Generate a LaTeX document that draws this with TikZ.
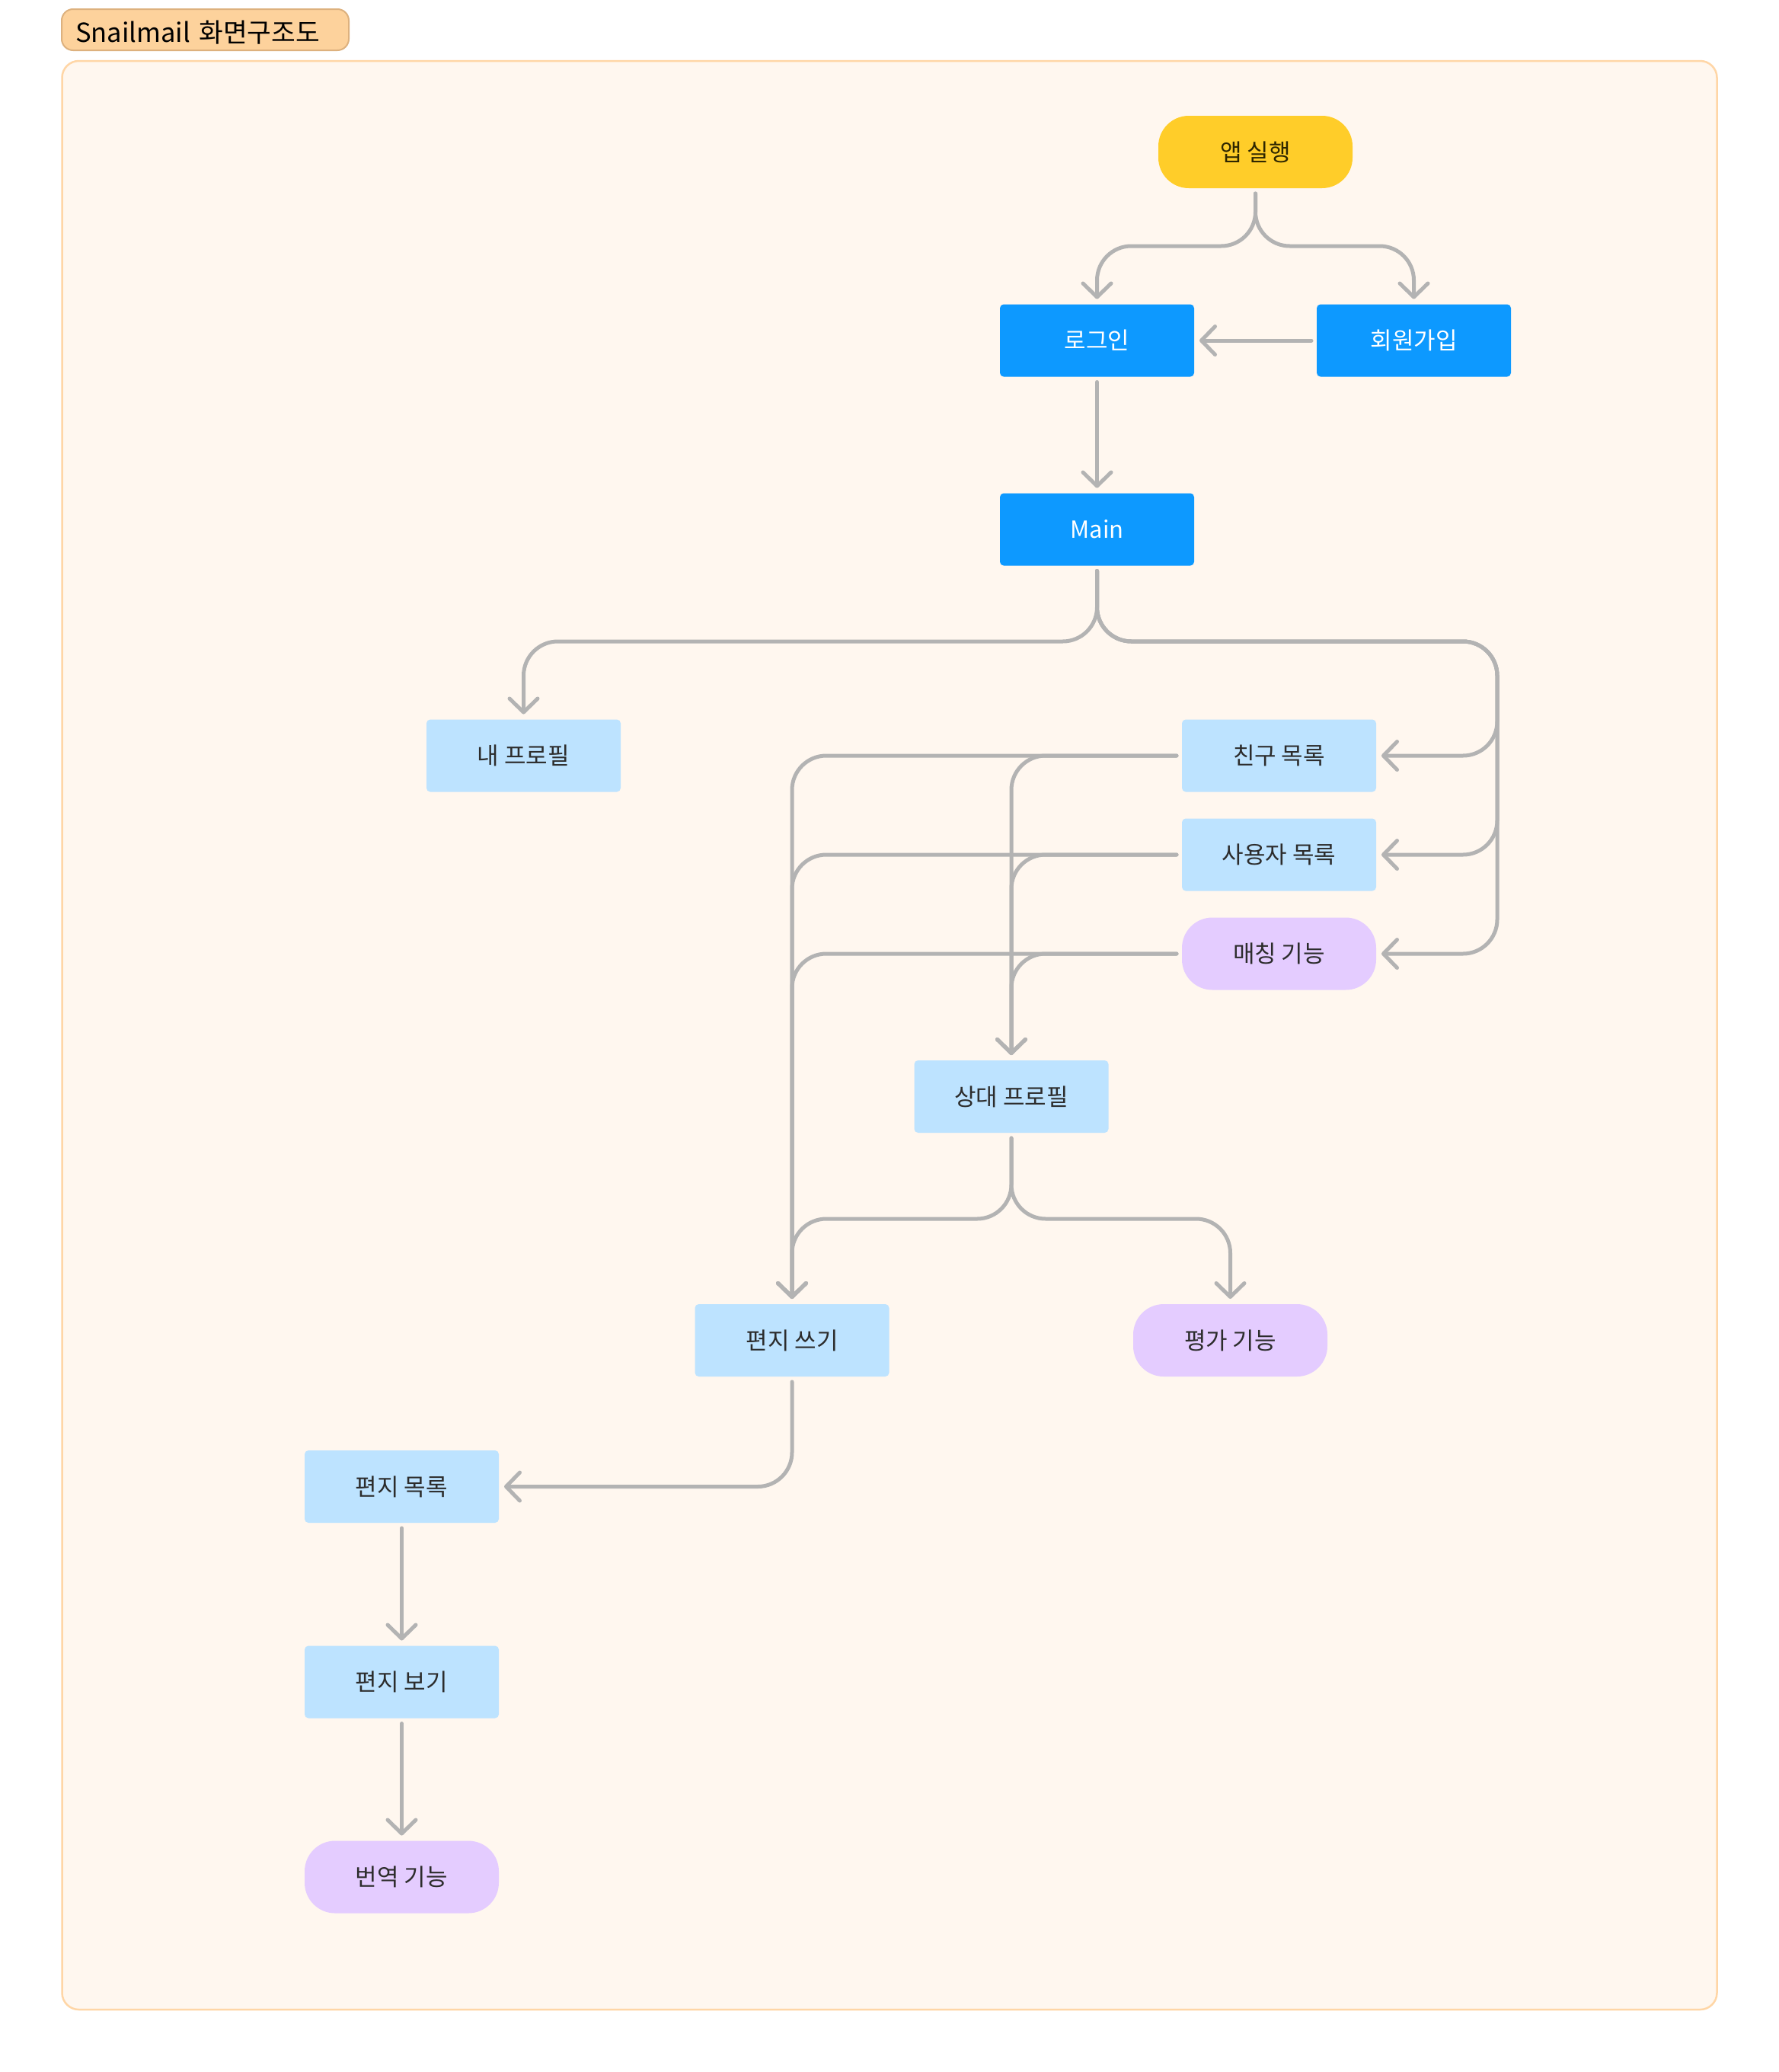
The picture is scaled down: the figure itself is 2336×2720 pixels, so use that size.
\documentclass[tikz,border=0pt]{standalone}
\usepackage{fontspec}
\setmainfont{Noto Sans CJK KR}
\usetikzlibrary{arrows.meta}

\definecolor{sectionfill}{HTML}{FFF7EF}
\definecolor{sectionline}{HTML}{FFD6A6}
\definecolor{tabfill}{HTML}{FDD29C}
\definecolor{tabline}{HTML}{DDB17E}
\definecolor{startfill}{HTML}{FFCD29}
\definecolor{keyfill}{HTML}{0D99FF}
\definecolor{screenfill}{HTML}{BDE3FF}
\definecolor{featurefill}{HTML}{E4CCFF}
\definecolor{wire}{HTML}{B3B3B3}
\definecolor{ink}{HTML}{2C2C2C}
\definecolor{startink}{HTML}{2E2600}

\begin{document}
\begin{tikzpicture}[
  x=1pt, y=-1pt,
  base/.style={minimum width=255pt, minimum height=95pt, inner sep=0pt,
    outer sep=7pt, font=\fontsize{31}{37}\selectfont, text=ink},
  startbox/.style={base, fill=startfill, text=startink, rounded corners=40pt},
  keybox/.style={base, fill=keyfill, text=white, rounded corners=5pt},
  screenbox/.style={base, fill=screenfill, rounded corners=5pt},
  featurebox/.style={base, fill=featurefill, rounded corners=40pt},
  titletab/.style={fill=tabfill, draw=tabline, line width=2pt, rounded corners=15pt,
    minimum width=377pt, minimum height=54pt, inner xsep=18pt, inner ysep=0pt,
    text width=341pt, text height=32pt, text depth=0pt, align=left,
    font=\fontsize{34.5}{41}\selectfont, text=black},
  conn/.style={draw=wire, line width=5pt, line cap=round, line join=round,
    rounded corners=45pt,
    -{Straight Barb[length=18pt, width=37pt, line cap=round, line join=round]}},
]
\useasboundingbox[fill=white] (0,0) rectangle (2336,2720);

% section frame and its tab
\draw[fill=sectionfill, draw=sectionline, line width=2.5pt, rounded corners=22pt]
  (81.5,80) rectangle (2254.5,2638);
\node[titletab] (title) at (269.5,39) {Snailmail 화면구조도};

% screens
\node[startbox]   (app)       at (1648.5,199.5) {앱 실행};
\node[keybox]     (login)     at (1440.5,447)   {로그인};
\node[keybox]     (signup)    at (1856.5,447)   {회원가입};
\node[keybox]     (main)      at (1440.5,695)   {Main};
\node[screenbox]  (myprof)    at (687.5,992)    {내 프로필};
\node[screenbox]  (friends)   at (1679.5,992)   {친구 목록};
\node[screenbox]  (users)     at (1679.5,1122)  {사용자 목록};
\node[featurebox] (match)     at (1679.5,1252)  {매칭 기능};
\node[screenbox]  (other)     at (1328,1439.5)  {상대 프로필};
\node[screenbox]  (write)     at (1040,1759.5)  {편지 쓰기};
\node[featurebox] (rate)      at (1615.5,1759.5){평가 기능};
\node[screenbox]  (letters)   at (527.5,1951.5) {편지 목록};
\node[screenbox]  (view)      at (527.5,2208)   {편지 보기};
\node[featurebox] (translate) at (527.5,2464)   {번역 기능};

% levels where the flows branch
\coordinate (appsplit)   at (0,323);
\coordinate (mainsplit)  at (0,842);
\coordinate (rail)       at (1966,0);
\coordinate (othersplit) at (0,1600);

% app start
\draw[conn] (app.south) -- (app.south |- appsplit) -- (login.north |- appsplit) -- (login.north);
\draw[conn] (app.south) -- (app.south |- appsplit) -- (signup.north |- appsplit) -- (signup.north);
\draw[conn] (signup.west) -- (login.east);
\draw[conn] (login.south) -- (main.north);

% main menu
\draw[conn] (main.south) -- (main.south |- mainsplit) -- (myprof.north |- mainsplit) -- (myprof.north);
\draw[conn] (main.south) -- (main.south |- mainsplit) -- (rail |- mainsplit) -- (rail |- friends.east) -- (friends.east);
\draw[conn] (main.south) -- (main.south |- mainsplit) -- (rail |- mainsplit) -- (rail |- users.east) -- (users.east);
\draw[conn] (main.south) -- (main.south |- mainsplit) -- (rail |- mainsplit) -- (rail |- match.east) -- (match.east);

% lists lead to writing and to the other profile
\foreach \src in {friends,users,match} {
  \draw[conn] (\src.west) -- (write.north |- \src.west) -- (write.north);
  \draw[conn] (\src.west) -- (other.north |- \src.west) -- (other.north);
}

% other profile
\draw[conn] (other.south) -- (other.south |- othersplit) -- (write.north |- othersplit) -- (write.north);
\draw[conn] (other.south) -- (other.south |- othersplit) -- (rate.north |- othersplit) -- (rate.north);

% letters
\draw[conn] (write.south) |- (letters.east);
\draw[conn] (letters.south) -- (view.north);
\draw[conn] (view.south) -- (translate.north);
\end{tikzpicture}
\end{document}
